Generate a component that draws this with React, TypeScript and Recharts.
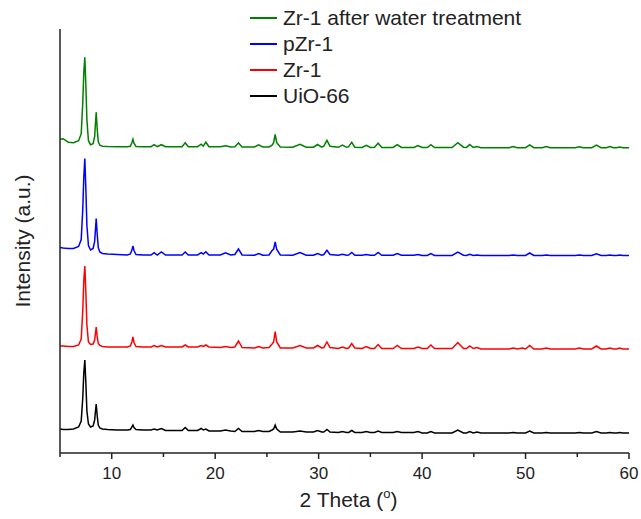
import React from "react";
import { LineChart, Line, XAxis, YAxis, Legend } from "recharts";

// 2θ sampling positions (degrees)
const twoTheta = [
  5.0, 5.3, 5.8, 6.3, 6.8, 7.05, 7.2, 7.3, 7.4, 7.5,
  7.6, 7.75, 7.95, 8.2, 8.35, 8.42, 8.5, 8.6, 8.7, 8.85,
  9.1, 9.6, 10.5, 11.5, 11.8, 11.95, 12.05, 12.15, 12.35, 13.0,
  13.8, 14.1, 14.4, 14.8, 15.2, 16.2, 16.8, 17.1, 17.4, 18.3,
  18.65, 18.85, 19.1, 19.4, 20.5, 21.0, 21.5, 21.9, 22.25, 22.6,
  23.8, 24.2, 24.6, 25.2, 25.5, 25.65, 25.8, 25.95, 26.3, 27.5,
  28.2, 28.8, 29.5, 29.9, 30.3, 30.5, 30.8, 31.1, 31.9, 32.3,
  32.7, 32.9, 33.2, 33.5, 34.2, 34.6, 35.0, 35.4, 35.75, 36.1,
  37.2, 37.6, 38.0, 39.2, 39.6, 40.0, 40.5, 40.85, 41.2, 42.9,
  43.45, 44.0, 44.3, 44.6, 44.95, 45.3, 45.7, 48.4, 48.8, 49.2,
  49.7, 50.0, 50.4, 50.8, 51.6, 52.0, 52.4, 54.8, 55.2, 55.6,
  56.4, 56.85, 57.3, 57.8, 58.15, 58.5, 58.8, 59.1, 59.4, 60.0,
];

// Intensities (a.u.) above each pattern's own baseline
const uio66 = [
  4, 3.5, 3.5, 4, 6, 12, 35, 60, 73, 50,
  22, 9, 6, 7, 13, 21, 29, 17, 8, 5,
  4, 3.5, 3, 3, 3.5, 6, 8, 5.5, 3.5, 3,
  3, 4, 3, 4.5, 2.5, 2.5, 2.5, 5.5, 2.5, 2.5,
  4.5, 3, 4, 2, 2, 3, 2, 1.5, 4.5, 1.5,
  1.5, 2.5, 1.5, 1.5, 3, 4, 8, 4, 1, 1,
  2, 1, 1, 2.5, 1, 1, 3.5, 1, 0.5, 1.5,
  0.5, 0.5, 2.5, 0.5, 0.5, 1.5, 0.5, 0.5, 2, 0.5,
  0.5, 1.5, 0.5, 0.5, 1.5, 0, 0, 1.5, 0, 0,
  3, 0, 0, 1.5, 0, 1, 0, 0, 0.5, 0,
  0, 0, 2, 0, 0, 0.5, 0, 0, 0.5, 0,
  0, 1.5, 0, 0, 0.5, 0, 0, 0.5, 0, 0,
];

const zr1 = [
  3, 3, 2.5, 2.5, 4, 10, 38, 68, 83, 56,
  24, 7, 4.5, 5, 9, 15, 22, 12, 5.5, 3.5,
  2.5, 2, 2, 2, 3, 7, 12, 6.5, 2.5, 2,
  2, 3.5, 2, 3.5, 2, 2, 2, 4, 2, 2,
  3.5, 2.5, 4, 2, 1.5, 2.5, 1.5, 2, 8, 1.5,
  1, 2.5, 1, 1.5, 5, 7, 17.5, 7, 1, 1,
  3.5, 1, 1, 3.5, 1, 1.5, 7, 1.5, 0.5, 2,
  0.5, 1, 5.5, 1, 0.5, 2.5, 0.5, 0.5, 4.5, 0.5,
  0.5, 3.5, 0.5, 0.5, 2, 0.5, 0.5, 4, 0.5, 0.5,
  6.5, 0.5, 0.5, 3, 0.5, 1.5, 0, 0, 1, 0,
  1, 0, 3.5, 0, 0, 1, 0, 0, 1, 0,
  0, 3, 0, 0, 1, 0, 0, 1, 0, 0,
];

const pzr1 = [
  8, 7.5, 7, 7, 9, 16, 46, 78, 97, 66,
  30, 10, 5.5, 7, 14, 25, 37, 21, 8, 3.5,
  2, 1.5, 1, 0.5, 1.5, 5.5, 9.5, 5, 1, 0.5,
  0.5, 2.8, 0.5, 3.5, 0.5, 0.5, 0.5, 3.5, 0.5, 0.5,
  2.8, 1.5, 3.8, 0.5, 0.5, 2.8, 0.5, 1, 6.5, 0.5,
  0.3, 2, 0.3, 0.5, 5, 6.5, 13.5, 6, 0.5, 0.3,
  3, 0.3, 0.3, 2, 0.3, 1, 5.2, 1, 0.2, 1.2,
  0.2, 0.5, 3, 0.3, 0.2, 1, 0.2, 0.2, 3, 0.2,
  0.2, 2, 0.2, 0.2, 1, 0, 0, 2, 0, 0,
  3.5, 0.3, 0, 1.2, 0, 0.6, 0, 0, 0.5, 0,
  0, 0, 2.5, 0, 0, 0.4, 0, 0, 0.5, 0,
  0, 1.8, 0, 0, 0.4, 0, 0, 0.4, 0, 0,
];

const zr1Water = [
  8.5, 9, 5.5, 5, 7, 14, 45, 75, 90.5, 62,
  28, 7, 3, 4, 11, 23, 35.5, 18, 6, 2.5,
  1.5, 1.2, 1, 1, 1.5, 5, 8.5, 4.5, 1.2, 1,
  1, 3, 1, 3, 1, 1, 1, 5, 1, 1,
  3.5, 1.5, 5.5, 1, 1, 2, 0.8, 1, 4.8, 0.8,
  0.8, 2.8, 0.8, 0.8, 2.5, 5, 13.2, 5, 0.6, 0.5,
  3.5, 0.5, 0.5, 3.2, 0.5, 1.5, 7.3, 1.5, 0.4, 2.6,
  0.4, 1, 5.3, 0.5, 0.3, 2.3, 0.3, 0.5, 4.5, 0.3,
  0.3, 3, 0.3, 0.2, 2.2, 0.2, 0.2, 3, 0.2, 0.2,
  5, 0.5, 0.3, 3.2, 0.3, 1.2, 0, 0, 1.2, 0,
  0, 0, 2.8, 0, 0, 1.2, 0, 0, 1, 0,
  0, 2.5, 0, 0, 1.2, 0, 0, 0.6, 0, 0,
];

// vertical stacking offsets of the patterns
const stackOffsets = { uio66: 20, zr1: 104, pzr1: 197.5, zr1Water: 305.3 };

const xTicks = [5, 10, 15, 20, 25, 30, 35, 40, 45, 50, 55, 60];

const seriesDefs = [
  { key: "zr1Water", name: "Zr-1 after water treatment", color: "#008000", values: zr1Water },
  { key: "pzr1", name: "pZr-1", color: "#0000ff", values: pzr1 },
  { key: "zr1", name: "Zr-1", color: "#ff0000", values: zr1 },
  { key: "uio66", name: "UiO-66", color: "#000000", values: uio66 },
];

const data = twoTheta.map((t, i) => {
  const row: Record<string, number> = { t };
  seriesDefs.forEach((s) => {
    row[s.key] = (stackOffsets as any)[s.key] + s.values[i];
  });
  return row;
});

const FONT = "'Liberation Sans', Arial, sans-serif";

const XTick = (props: any) => {
  const { x, y, payload } = props;
  const major = payload.value % 10 === 0;
  return (
    <g>
      <line x1={x} x2={x} y1={y} y2={y + (major ? 6 : 4)} stroke="#222" strokeWidth={1.5} />
      {major && (
        <text x={x} y={y + 26} textAnchor="middle" fontSize={17} fill="#222" fontFamily={FONT}>
          {payload.value}
        </text>
      )}
    </g>
  );
};

const XTitle = (props: any) => {
  const vb = props.viewBox || {};
  const cx = vb.x + vb.width / 2;
  return (
    <text x={cx + 4} y={vb.y + 54} textAnchor="middle" fontSize={21} fill="#222" fontFamily={FONT}>
      2 Theta (
      <tspan dy={-9} fontSize={13}>o</tspan>
      <tspan dy={9}>)</tspan>
    </text>
  );
};

const YTitle = (props: any) => {
  const vb = props.viewBox || {};
  const cy = (vb.y ?? 29) + (vb.height ?? 424) / 2;
  return (
    <text
      x={30}
      y={cy}
      transform={`rotate(-90, 30, ${cy})`}
      textAnchor="middle"
      fontSize={21}
      fill="#222"
      fontFamily={FONT}
    >
      Intensity (a.u.)
    </text>
  );
};

const LegendContent = () => (
  <div style={{ fontFamily: FONT, fontSize: 21, color: "#222" }}>
    {seriesDefs.map((s) => (
      <div key={s.key} style={{ display: "flex", alignItems: "center", height: 26, whiteSpace: "nowrap" }}>
        <div style={{ width: 27, height: 1.5, background: s.color, marginRight: 6 }} />
        <span>{s.name}</span>
      </div>
    ))}
  </div>
);

export default function App() {
  return (
    <div style={{ position: "absolute", left: 0, top: 0 }}>
      <LineChart
        width={641}
        height={519}
        data={data}
        margin={{ top: 29, right: 12, bottom: 36, left: 10 }}
        style={{ fontFamily: FONT }}
      >
        <XAxis
          dataKey="t"
          type="number"
          domain={[5, 60]}
          ticks={xTicks}
          interval={0}
          height={30}
          tickSize={0}
          tickMargin={0}
          tickLine={false}
          tick={<XTick />}
          axisLine={{ stroke: "#222", strokeWidth: 1.5 }}
          allowDataOverflow
          label={{ value: "2 Theta", content: <XTitle /> }}
        />
        <YAxis
          type="number"
          domain={[0, 424]}
          width={50}
          tick={false}
          tickLine={false}
          axisLine={{ stroke: "#222", strokeWidth: 1.5 }}
          allowDataOverflow
          label={{ value: "Intensity (a.u.)", content: <YTitle /> }}
        />
        <Legend
          layout="vertical"
          align="center"
          verticalAlign="middle"
          content={<LegendContent />}
          wrapperStyle={{ position: "absolute", left: 250, top: 5, width: 380, height: 110 }}
        />
        {seriesDefs.map((s) => (
          <Line
            key={s.key}
            dataKey={s.key}
            name={s.name}
            type="linear"
            stroke={s.color}
            strokeWidth={1.5}
            dot={false}
            activeDot={false}
            isAnimationActive={false}
          />
        ))}
      </LineChart>
    </div>
  );
}
